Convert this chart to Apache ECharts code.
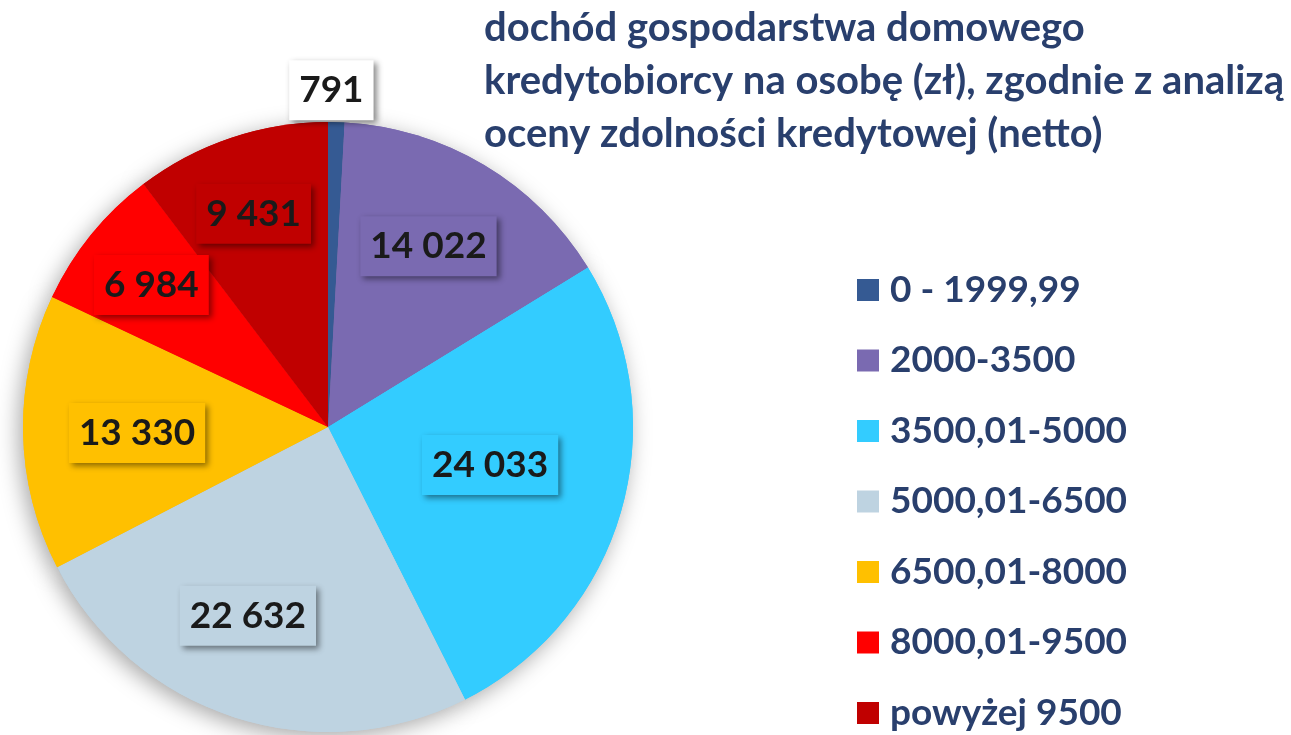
<!DOCTYPE html>
<html>
<head>
<meta charset="utf-8">
<script src="https://cdn.jsdelivr.net/npm/echarts@6/dist/echarts.min.js"></script>
<style>
  html, body { margin: 0; padding: 0; background: #fff; }
  #container { width: 1291px; height: 735px; }
</style>
</head>
<body>
<div id="container"></div>
<script>
var categories = ['0 - 1999,99', '2000-3500', '3500,01-5000', '5000,01-6500', '6500,01-8000', '8000,01-9500', 'powyżej 9500'];
var values = [791, 14022, 24033, 22632, 13330, 6984, 9431];
var colors = ['#355A93', '#7A6AB1', '#33CCFF', '#BED3E1', '#FFC000', '#FF0000', '#C00000'];
var titleText = 'dochód gospodarstwa domowego\nkredytobiorcy na osobę (zł), zgodnie z analizą\noceny zdolności kredytowej (netto)';

// small nudges so the value boxes sit where the original "best fit" put them
var labelNudges = [[-53, 0], [-6, -2], [-38, -19], [-16, -9], [17, 2], [-15, -11], [-8, -16]];

var navy = '#293F6D';
var font = 'Lato, "Open Sans", sans-serif';
var center = [328, 427];
var radius = 305;

function fmt(v) {
    return String(v).replace(/\B(?=(\d{3})+(?!\d))/g, ' ');
}

var baseData = categories.map(function (name, i) {
    return { name: name, value: values[i], itemStyle: { color: colors[i] } };
});

var labelData = categories.map(function (name, i) {
    var item = {
        name: name,
        value: values[i],
        itemStyle: { color: 'rgba(0,0,0,0)' },
        label: { backgroundColor: colors[i], offset: labelNudges[i] }
    };
    if (i === 0) {
        // tiny slice: label sits above the pie in a white box
        item.label = { position: 'outside', backgroundColor: '#fff', offset: labelNudges[i] };
        item.labelLine = { show: false, length: 32, length2: 0 };
    }
    return item;
});

var dom = document.getElementById('container');
var myChart = echarts.init(dom, null, { renderer: 'canvas' });

var option = {
    animation: false,
    backgroundColor: '#fff',
    title: {
        text: titleText,
        left: 484,
        top: 2,
        padding: 0,
        textStyle: {
            fontFamily: font,
            fontWeight: 'bold',
            fontSize: 40,
            lineHeight: 53,
            color: navy
        }
    },
    legend: {
        orient: 'vertical',
        left: 857,
        top: 270,
        padding: 0,
        data: categories,
        icon: 'rect',
        itemWidth: 22,
        itemHeight: 22,
        itemGap: 30.5,
        selectedMode: false,
        textStyle: {
            fontFamily: font,
            fontWeight: 'bold',
            fontSize: 37,
            lineHeight: 40,
            color: navy,
            padding: [0, 0, 0, 6]
        }
    },
    series: [
        {
            // underlay that casts the soft shadow round the pie
            type: 'pie',
            center: center,
            radius: [0, radius],
            startAngle: 90,
            silent: true,
            label: { show: false },
            labelLine: { show: false },
            itemStyle: {
                shadowBlur: 22,
                shadowOffsetX: -4,
                shadowOffsetY: 5,
                shadowColor: 'rgba(0,0,0,0.35)'
            },
            data: baseData
        },
        {
            type: 'pie',
            center: center,
            radius: [0, radius],
            startAngle: 90,
            silent: true,
            label: { show: false },
            labelLine: { show: false },
            data: baseData
        },
        {
            // transparent ring only used to place the value boxes
            type: 'pie',
            center: center,
            radius: [105, radius],
            startAngle: 90,
            silent: true,
            avoidLabelOverlap: false,
            label: {
                show: true,
                position: 'inside',
                formatter: function (p) { return fmt(p.value); },
                fontFamily: font,
                fontWeight: 'bold',
                fontSize: 37,
                lineHeight: 44,
                color: '#1A1A1A',
                padding: [8, 10, 8, 10],
                shadowBlur: 6,
                shadowOffsetX: 3,
                shadowOffsetY: 3,
                shadowColor: 'rgba(0,0,0,0.45)'
            },
            labelLine: { show: false },
            data: labelData
        }
    ]
};

myChart.setOption(option);
window.addEventListener('resize', myChart.resize);
</script>
</body>
</html>
